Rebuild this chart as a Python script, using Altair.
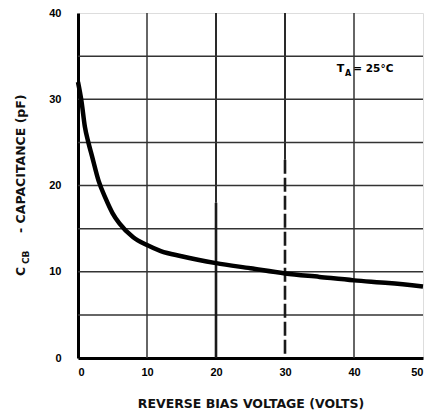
import altair as alt
import pandas as pd

# Curve data
volts = [0, 0.5, 1, 1.5, 2, 3, 4, 5, 6, 8, 10, 12, 15, 20, 25, 30, 35, 40, 45, 50]
cap = [32.0, 29.8, 26.8, 25.0, 23.5, 20.5, 18.5, 16.8, 15.6, 14.0, 13.1, 12.4, 11.8, 11.0, 10.4, 9.8, 9.4, 9.0, 8.7, 8.3]

x_ticks = [0, 10, 20, 30, 40, 50]
y_ticks = [0, 10, 20, 30, 40]
h_grid = [5, 10, 15, 20, 25, 30, 35]
v_grid_full = [10, 40]

# x=20 and x=30 grid lines: thin upper part, heavier (x=30 dashed) lower part
split_v = [20, 30]
split_at = [18, 23]

curve = pd.DataFrame({"v": volts, "c": cap})
vg = pd.DataFrame({"v": v_grid_full})
hg = pd.DataFrame({"c": h_grid})
upper = pd.DataFrame({"v": split_v, "bot": split_at})
hv = pd.DataFrame({"v": split_v[:1], "top": split_at[:1]})
dv = pd.DataFrame({"v": split_v[1:], "top": split_at[1:]})

xs = alt.Scale(domain=[0, 50], nice=False, zero=False)
ys = alt.Scale(domain=[0, 40], nice=False, zero=False)

FONT = "DejaVu Sans"
GRID = "#333333"
GW = 1.5

base_x = alt.X("v:Q", scale=xs, axis=alt.Axis(
    values=x_ticks, grid=False, ticks=False, domain=True, domainWidth=3, domainColor="black",
    labelFont="Liberation Sans", labelFontWeight="bold", labelFontSize=11, labelColor="black",
    labelPadding=8, title="REVERSE BIAS VOLTAGE (VOLTS)", titleFont=FONT, titleFontSize=12.5,
    titleFontWeight="bold", titleColor="#111", titlePadding=20))
base_y = alt.Y("c:Q", scale=ys, axis=alt.Axis(
    values=y_ticks, grid=False, ticks=False, domain=True, domainWidth=3, domainColor="black",
    labelFont="Liberation Sans", labelFontWeight="bold", labelFontSize=11, labelColor="black",
    labelPadding=17, title=None))

vlines = alt.Chart(vg).mark_rule(color=GRID, strokeWidth=GW).encode(
    x=alt.X("v:Q", scale=xs), y=alt.value(0), y2=alt.value(345))
uplines = alt.Chart(upper).mark_rule(color="#2a2a2a", strokeWidth=2).encode(
    x=alt.X("v:Q", scale=xs), y=alt.Y("bot:Q", scale=ys), y2=alt.value(0))
hlines = alt.Chart(hg).mark_rule(color=GRID, strokeWidth=GW).encode(
    y=alt.Y("c:Q", scale=ys), x=alt.value(0), x2=alt.value(345))
heavy = alt.Chart(hv).mark_rule(color="#1a1a1a", strokeWidth=2.6).encode(
    x=alt.X("v:Q", scale=xs), y=alt.Y("top:Q", scale=ys), y2=alt.value(345))
dashed = alt.Chart(dv).mark_rule(color="#1a1a1a", strokeWidth=2.6, strokeDash=[14, 4]).encode(
    x=alt.X("v:Q", scale=xs), y=alt.Y("top:Q", scale=ys), y2=alt.value(345))

line = alt.Chart(curve).mark_line(color="black", strokeWidth=4.5, interpolate="monotone").encode(
    x=base_x, y=base_y)

ann_v = [37.5, 38.7, 39.9]
ann_c = [33.5, 32.9, 33.5]
ann_t = ["T", "A", "= 25°C"]
ann_s = [11, 8, 10.5]
ann = pd.DataFrame({"v": ann_v, "c": ann_c, "t": ann_t, "s": ann_s})
annot = alt.Chart(ann).mark_text(align="left", baseline="middle", font=FONT,
                                 fontWeight="bold", color="black").encode(
    x=alt.X("v:Q", scale=xs), y=alt.Y("c:Q", scale=ys), text="t:N",
    size=alt.Size("s:Q", scale=None, legend=None))

yt1 = alt.Chart(pd.DataFrame({"t": ["C"]})).mark_text(
    angle=270, align="left", baseline="middle", font=FONT, fontWeight="bold", fontSize=12.5,
    color="#111").encode(x=alt.value(-57), y=alt.value(263), text="t:N")
yt2 = alt.Chart(pd.DataFrame({"t": ["CB"]})).mark_text(
    angle=270, align="left", baseline="middle", font=FONT, fontWeight="bold", fontSize=9,
    color="#111").encode(x=alt.value(-52), y=alt.value(251), text="t:N")
yt3 = alt.Chart(pd.DataFrame({"t": ["- CAPACITANCE (pF)"]})).mark_text(
    angle=270, align="left", baseline="middle", font=FONT, fontWeight="bold", fontSize=12.5,
    color="#111").encode(x=alt.value(-57), y=alt.value(220), text="t:N")

chart = alt.layer(vlines, uplines, hlines, heavy, dashed, line, annot, yt1, yt2, yt3).properties(
    width=345, height=345, autosize="none",
    padding={"left": 70, "top": 5, "right": 12, "bottom": 56}
).configure_view(stroke="black", strokeWidth=2).configure(background="white")

chart.save("out.html", embed_options={"renderer": "svg", "actions": False})
